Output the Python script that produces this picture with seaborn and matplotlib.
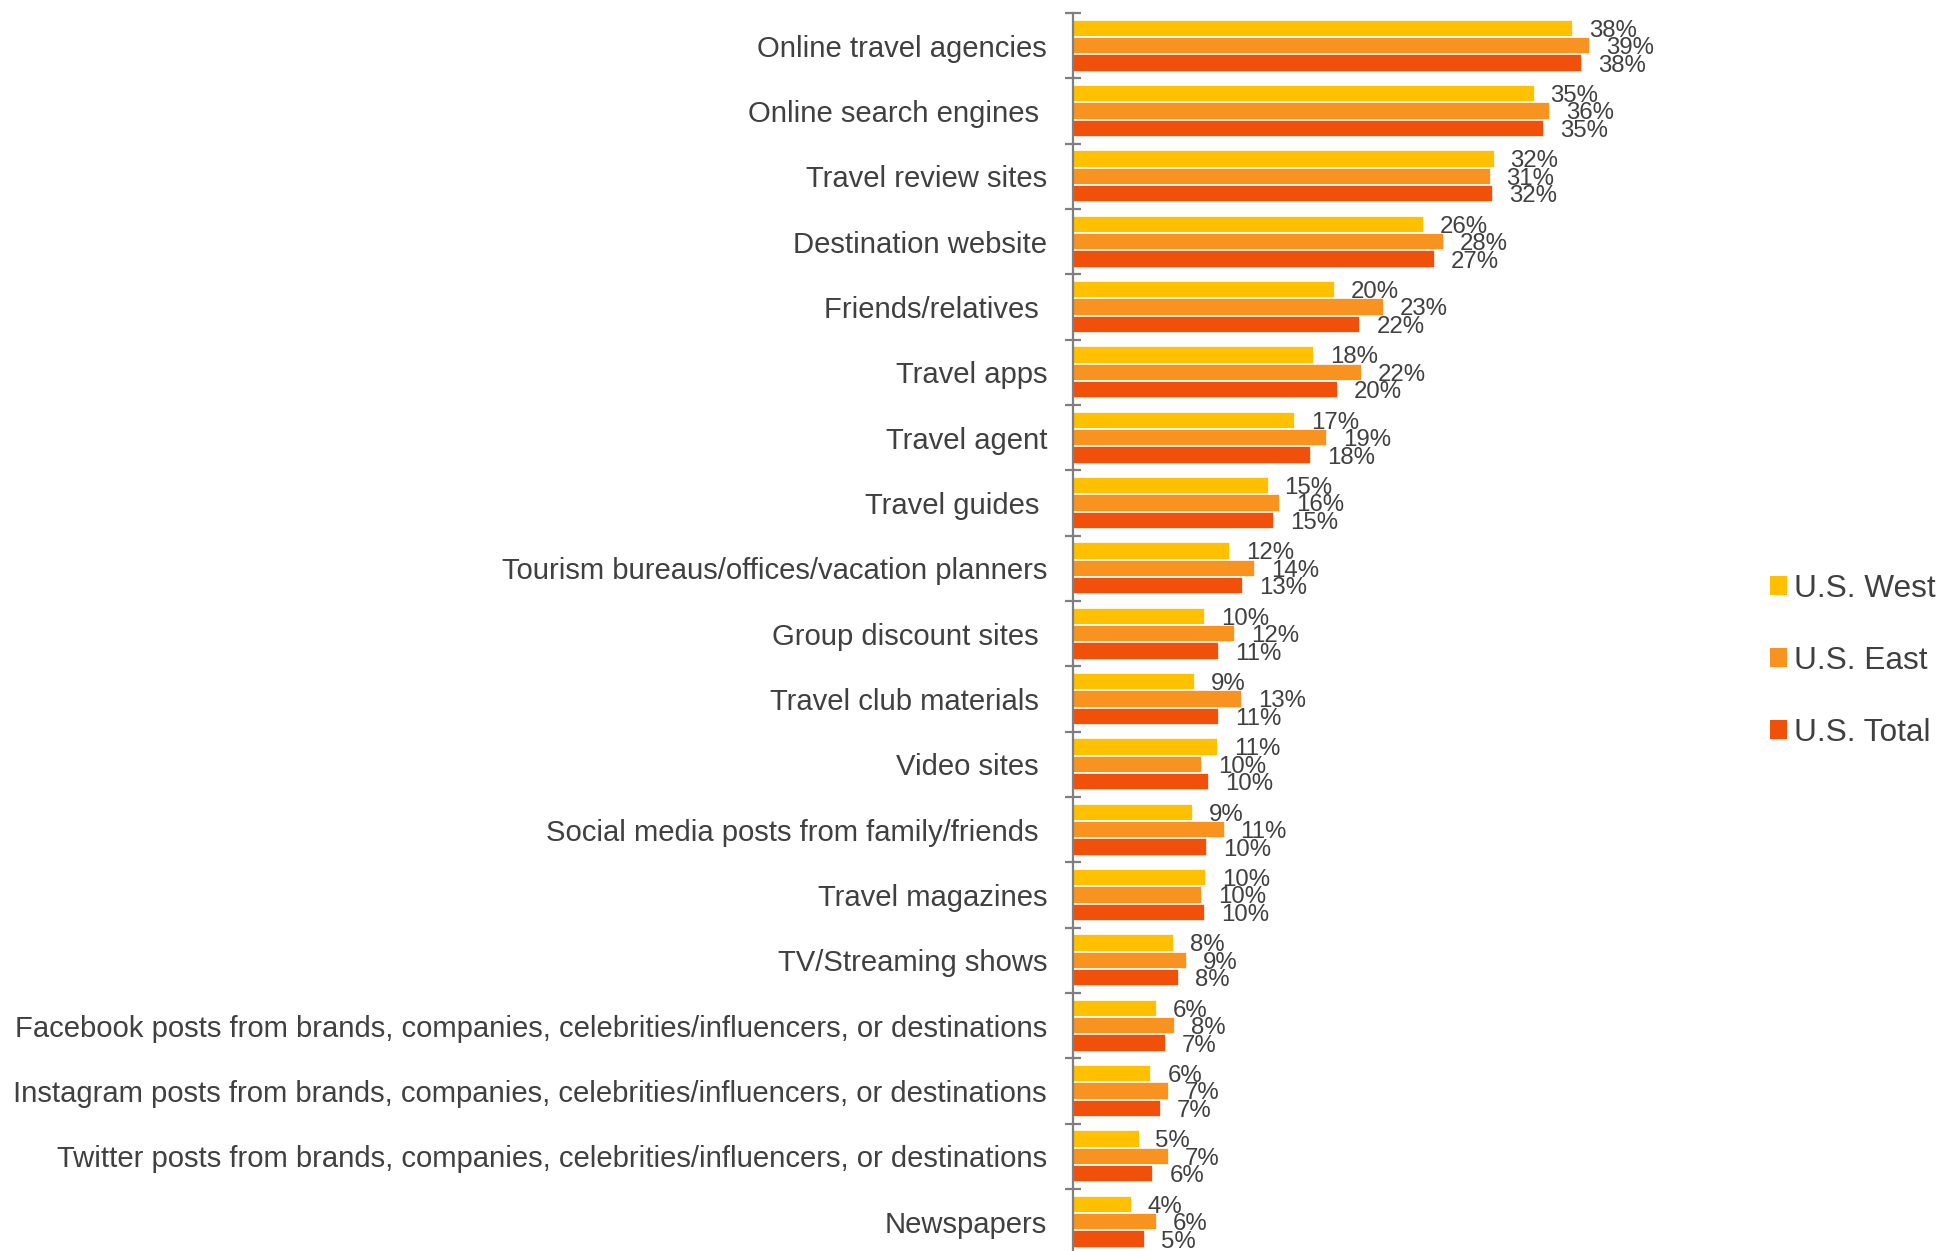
import matplotlib
matplotlib.use("Agg")
import matplotlib.pyplot as plt
from matplotlib.patches import Patch
import seaborn as sns
import pandas as pd
import numpy as np

categories = [
    "Online travel agencies",
    "Online search engines ",
    "Travel review sites",
    "Destination website",
    "Friends/relatives ",
    "Travel apps",
    "Travel agent",
    "Travel guides ",
    "Tourism bureaus/offices/vacation planners",
    "Group discount sites ",
    "Travel club materials ",
    "Video sites ",
    "Social media posts from family/friends ",
    "Travel magazines",
    "TV/Streaming shows",
    "Facebook posts from brands, companies, celebrities/influencers, or destinations",
    "Instagram posts from brands, companies, celebrities/influencers, or destinations",
    "Twitter posts from brands, companies, celebrities/influencers, or destinations",
    "Newspapers",
]
series_names = ["U.S. West", "U.S. East", "U.S. Total"]
west = [37.6, 34.7, 31.7, 26.4, 19.7, 18.1, 16.7, 14.7, 11.8, 9.9, 9.2, 10.9, 9.0, 10.0, 7.6, 6.3, 5.9, 5.0, 4.4]
east = [38.9, 35.9, 31.4, 27.9, 23.4, 21.7, 19.1, 15.6, 13.7, 12.2, 12.7, 9.7, 11.4, 9.7, 8.6, 7.7, 7.2, 7.2, 6.3]
total = [38.3, 35.4, 31.6, 27.2, 21.6, 19.9, 17.9, 15.1, 12.8, 11.0, 11.0, 10.2, 10.1, 9.9, 8.0, 7.0, 6.6, 6.05, 5.4]
colors = ["#FFC000", "#F7931E", "#F0500A"]

rows = []
for name, vals in zip(series_names, [west, east, total]):
    for c, v in zip(categories, vals):
        rows.append({"category": c, "series": name, "value": v})
df = pd.DataFrame(rows)

sns.set_theme(style="white")
plt.rcParams["font.family"] = ["Liberation Sans", "DejaVu Sans"]

text_color = "#404040"
axis_color = "#7F7F7F"

fig = plt.figure(figsize=(19.41, 12.51), dpi=100)
ax = fig.add_axes([1073 / 1941, -3.3 / 1251, 532 / 1941, (1251 - 13 + 3.3) / 1251])

sns.barplot(data=df, y="category", x="value", hue="series", order=categories,
            hue_order=series_names, palette=colors, saturation=1, orient="h", width=0.8,
            edgecolor="white", linewidth=1.2, errorbar=None, ax=ax, legend=False)

ax.set_xlim(0, 40)
ax.set_ylim(len(categories) - 0.5, -0.5)
ax.set_xlabel("")
ax.set_ylabel("")

for container in ax.containers:
    labels = [f"{w:.0f}%" for w in container.datavalues]
    anns = ax.bar_label(container, labels=labels, padding=11.5, fontsize=17.3, color=text_color)
    for a in anns:
        a.set_va("center_baseline")

for s in ["top", "right", "bottom"]:
    ax.spines[s].set_visible(False)
ax.spines["left"].set_color(axis_color)
ax.spines["left"].set_linewidth(1.6)
ax.set_xticks([])

ax.set_yticks(np.arange(len(categories)))
ax.set_yticklabels(categories, fontsize=21.1, color=text_color)
ax.tick_params(axis="y", which="major", length=0, pad=18.7)
ax.set_yticks(np.arange(len(categories) + 1) - 0.5, minor=True)
ax.tick_params(axis="y", which="minor", length=12, width=1.6, direction="inout",
               color=axis_color, left=True)

handles = [Patch(facecolor=c, edgecolor="none") for c in colors]
leg = fig.legend(handles, series_names, loc="center left",
                 bbox_to_anchor=(1770 / 1941, 1 - 661 / 1251),
                 frameon=False, fontsize=22.8, handlelength=0.55, handleheight=0.55,
                 handletextpad=0.2, labelspacing=1.33, borderaxespad=0, borderpad=0)
for t in leg.get_texts():
    t.set_color(text_color)

fig.savefig("out.png", dpi=100)
